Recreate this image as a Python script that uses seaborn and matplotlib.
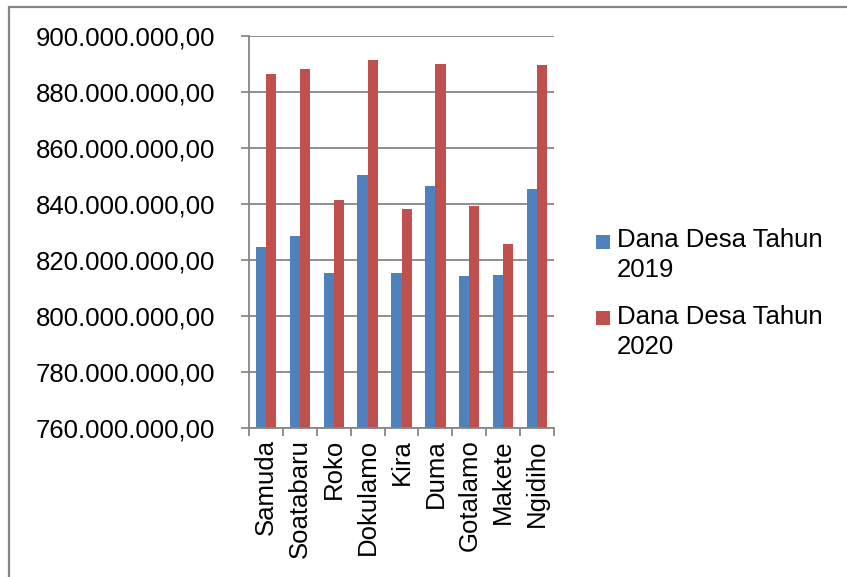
import matplotlib
matplotlib.use("Agg")
import matplotlib.pyplot as plt
from matplotlib.patches import Rectangle
from matplotlib.ticker import FixedLocator, FuncFormatter
import seaborn as sns
import pandas as pd
import numpy as np

villages = ["Samuda", "Soatabaru", "Roko", "Dokulamo", "Kira", "Duma",
            "Gotalamo", "Makete", "Ngidiho"]
dana_2019 = [824_500_000, 828_500_000, 815_500_000, 850_300_000, 815_500_000,
             846_300_000, 814_400_000, 814_500_000, 845_400_000]
dana_2020 = [886_300_000, 888_200_000, 841_300_000, 891_300_000, 838_300_000,
             889_900_000, 839_300_000, 825_800_000, 889_500_000]
series = ["Dana Desa Tahun 2019", "Dana Desa Tahun 2020"]
legend_labels = ["Dana Desa Tahun\n2019", "Dana Desa Tahun\n2020"]
colors = ["#4F81BD", "#C0504D"]
y_ticks = list(range(760_000_000, 900_000_001, 20_000_000))

df = pd.DataFrame({
    "Desa": villages * 2,
    "Dana": dana_2019 + dana_2020,
    "Seri": [series[0]] * len(villages) + [series[1]] * len(villages),
})

sns.set_style("white")
plt.rcParams["font.family"] = ["Liberation Sans", "DejaVu Sans"]
plt.rcParams["text.color"] = "black"
plt.rcParams["xtick.labelcolor"] = "black"
plt.rcParams["ytick.labelcolor"] = "black"
FS = 18.5
GRID = "#868686"

W, H = 847, 577
fig = plt.figure(figsize=(W / 100, H / 100), dpi=100)
ax = fig.add_axes([249 / W, 1 - 428 / H, (554 - 249) / W, (428 - 36) / H])

sns.barplot(data=df, x="Desa", y="Dana", hue="Seri", order=villages,
            hue_order=series, palette=colors, saturation=1, width=0.6, gap=0,
            linewidth=0, edgecolor="none", legend=False, ax=ax)

ax.set_ylim(y_ticks[0], y_ticks[-1])
ax.set_xlim(-0.5, len(villages) - 0.5)
ax.yaxis.set_major_locator(FixedLocator(y_ticks))


def fmt(v, pos):
    s = f"{v:,.2f}"
    return s.replace(",", "X").replace(".", ",").replace("X", ".")


ax.yaxis.set_major_formatter(FuncFormatter(fmt))
ax.grid(axis="y", color=GRID, linewidth=1.3)
ax.grid(axis="x", visible=False)
ax.set_axisbelow(True)
ax.set_xlabel("")
ax.set_ylabel("")

for s in ["top", "right"]:
    ax.spines[s].set_visible(False)
for s in ["left", "bottom"]:
    ax.spines[s].set_color(GRID)
    ax.spines[s].set_linewidth(1.3)

ax.tick_params(axis="y", which="major", direction="out", length=5.5,
               width=1.3, color=GRID, labelsize=FS, pad=19, left=True,
               labelcolor="black")
ax.set_xticks(range(len(villages)))
ax.set_xticklabels(villages, rotation=90)
ax.set_xticks(np.arange(-0.5, len(villages), 1.0), minor=True)
ax.tick_params(axis="x", which="major", length=0, labelsize=FS, pad=8,
               labelcolor="black")
ax.tick_params(axis="x", which="minor", direction="out", length=5.5,
               width=1.3, color=GRID, bottom=True)

# legend drawn in figure pixel coordinates
entries = [(235, 228), (311, 305)]
for (sq_top, txt_top), lab, c in zip(entries, legend_labels, colors):
    fig.add_artist(Rectangle((596 / W, 1 - (sq_top + 14) / H), 14 / W, 14 / H,
                             transform=fig.transFigure, facecolor=c,
                             edgecolor="none"))
    fig.text(617 / W, 1 - txt_top / H, lab, fontsize=FS, va="top",
             ha="left", linespacing=1.3, color="black")

# outer chart border
fig.add_artist(Rectangle((8.5 / W, -0.1), 1.2, 1.1 - 7 / H,
                         transform=fig.transFigure, facecolor="none",
                         edgecolor=GRID, linewidth=1.6))

fig.savefig("out.png", dpi=100)
